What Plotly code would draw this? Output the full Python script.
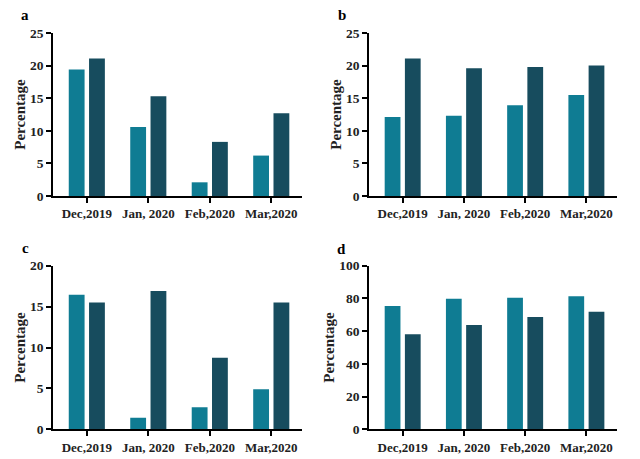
import plotly.graph_objects as go

categories = ["Dec,2019", "Jan, 2020", "Feb,2020", "Mar,2020"]

a_light = [19.4, 10.6, 2.1, 6.2]
a_dark = [21.1, 15.3, 8.3, 12.7]
b_light = [12.1, 12.3, 13.9, 15.5]
b_dark = [21.1, 19.6, 19.8, 20.0]
c_light = [16.45, 1.4, 2.7, 4.9]
c_dark = [15.5, 16.9, 8.75, 15.5]
d_light = [75.4, 79.8, 80.4, 81.3]
d_dark = [58.1, 63.8, 68.7, 71.9]

panels = [
    ("a", a_light, a_dark, 25, 5),
    ("b", b_light, b_dark, 25, 5),
    ("c", c_light, c_dark, 20, 5),
    ("d", d_light, d_dark, 100, 20),
]

LIGHT = "#0F7C93"
DARK = "#174C5E"
FONT = "Times New Roman, Liberation Serif, DejaVu Serif, serif"

xdomains = [[53/640, 302/640], [369/640, 617/640], [53/640, 302/640], [369/640, 617/640]]
ydomains = [[1-196/459, 1-33/459], [1-196/459, 1-33/459], [1-429.3/459, 1-265.7/459], [1-429.3/459, 1-265.7/459]]

fig = go.Figure()
layout = dict(
    width=640, height=459,
    margin=dict(l=0, r=0, t=0, b=0),
    paper_bgcolor="white", plot_bgcolor="white",
    showlegend=False,
    barmode="group", bargap=0.34, bargroupgap=0.22,
    font=dict(family=FONT, color="black"),
)
annotations = []
letter_pos = [(25, 15), (342, 15), (25, 248), (341, 249)]
for i, (letter, light, dark, ymax, dtick) in enumerate(panels):
    n = i + 1
    xa = "x" if n == 1 else f"x{n}"
    ya = "y" if n == 1 else f"y{n}"
    fig.add_trace(go.Bar(x=categories, y=light, marker=dict(color=LIGHT, line=dict(width=0)), xaxis=xa, yaxis=ya))
    fig.add_trace(go.Bar(x=categories, y=dark, marker=dict(color=DARK, line=dict(width=0)), xaxis=xa, yaxis=ya))
    xkey = "xaxis" if n == 1 else f"xaxis{n}"
    ykey = "yaxis" if n == 1 else f"yaxis{n}"
    layout[xkey] = dict(
        domain=xdomains[i], anchor=ya, range=[-0.55, 3.5],
        showline=True, linecolor="black", linewidth=1.5,
        ticks="outside", ticklen=5, tickwidth=1.5, tickcolor="black",
        tickfont=dict(family=FONT, size=13, color="#222"),
        tickvals=categories, ticktext=[f"<b>{c}</b>" for c in categories],
        showgrid=False, zeroline=False, fixedrange=True, automargin=False,
    )
    layout[ykey] = dict(
        domain=ydomains[i], anchor=xa, range=[0, ymax], dtick=dtick,
        showline=True, linecolor="black", linewidth=1.5,
        ticks="outside", ticklen=5, tickwidth=1.5, tickcolor="black",
        tickfont=dict(family=FONT, size=13.5, color="#222"),
        tickprefix="<b>", ticksuffix="</b>",
        title=dict(text="<b>Percentage</b>", font=dict(family=FONT, size=15, color="#222"), standoff=1),
        showgrid=False, zeroline=False, fixedrange=True, automargin=False,
    )
    lx, ly = letter_pos[i]
    annotations.append(dict(
        text=f"<b>{letter}</b>", x=lx/640, y=1-ly/459, xref="paper", yref="paper",
        showarrow=False, xanchor="center", yanchor="middle",
        font=dict(family=FONT, size=15, color="black"),
    ))

layout["annotations"] = annotations
fig.update_layout(**layout)
fig.write_html("out.html", config={"displayModeBar": False},
               post_script="document.body.style.margin='0px';")
